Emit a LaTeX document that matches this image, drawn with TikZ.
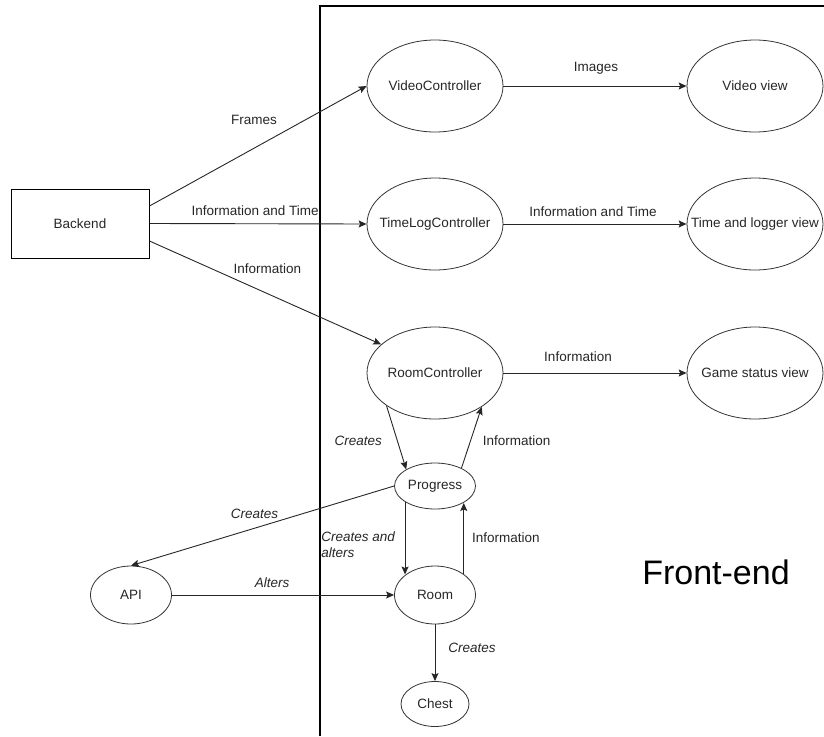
\documentclass[tikz,border=0pt]{standalone}
\usepackage{fontspec}
\setmainfont{Liberation Sans}
\usetikzlibrary{shapes.geometric,arrows.meta}

% Zero-width label so an ellipse keeps its given size
\newcommand{\zw}[1]{\makebox[0pt][c]{#1}}

\tikzset{
  every node/.style={font=\fontsize{13.5}{15}\selectfont, text=black!85},
  oval/.style={ellipse, draw=black!80, line width=0.8pt, inner sep=0pt},
  big/.style={oval, minimum width=136pt, minimum height=92pt},
  box/.style={rectangle, draw=black, line width=1pt, inner sep=0pt,
              minimum width=138pt, minimum height=69pt},
  arr/.style={draw=black!85, line width=0.9pt,
              -{Stealth[length=8pt,width=7pt,inset=1.5pt]}},
  lbl/.style={inner sep=1pt},
  ilbl/.style={inner sep=1pt, font=\fontsize{13.5}{16}\itshape},
}

\begin{document}
\begin{tikzpicture}[x=1pt,y=-1pt]
\useasboundingbox (0,0) rectangle (824,736);

% Front-end boundary (open to the right and bottom)
\draw[line width=1.3pt] (320,736) -- (320,6) -- (824,6);
\node[font=\fontsize{34}{36}\selectfont, text=black] (fe) at (716,572) {Front-end};

% Components
\node[box] (backend) at (80,223.5) {Backend};

\node[big] (video)   at (435,86)  {\zw{VideoController}};
\node[big] (videov)  at (755,86)  {\zw{Video view}};
\node[big] (timelog) at (435,224) {\zw{TimeLogController}};
\node[big] (timev)   at (755,224) {\zw{Time and logger view}};
\node[big] (roomc)   at (435,373) {\zw{RoomController}};
\node[big] (gamev)   at (755,373) {\zw{Game status view}};

\node[oval, minimum width=81pt, minimum height=46pt] (prog)  at (435,486) {\zw{Progress}};
\node[oval, minimum width=81pt, minimum height=58pt] (room)  at (435,595) {\zw{Room}};
\node[oval, minimum width=68pt, minimum height=45pt] (chest) at (435,704) {\zw{Chest}};
\node[oval, minimum width=81pt, minimum height=58pt] (api)   at (131,595) {\zw{API}};

% Backend feeds
\draw[arr] ([yshift=17.5pt]backend.east) -- (video.west)
  node[lbl, pos=.5, xshift=-4pt, yshift=26pt] {Frames};
\draw[arr] (backend.east) -- (timelog.west)
  node[lbl, pos=.5, xshift=-3pt, yshift=13pt] {Information and Time};
\draw[arr] ([yshift=-17.5pt]backend.east) -- (roomc.152)
  node[lbl, pos=.5, xshift=2pt, yshift=24pt] {Information};

% Controllers to views
\draw[arr] (video.east) -- (videov.west)
  node[lbl, pos=.5, xshift=1pt, yshift=18pt] {Images};
\draw[arr] (timelog.east) -- (timev.west)
  node[lbl, pos=.5, xshift=-2pt, yshift=12pt] {Information and Time};
\draw[arr] (roomc.east) -- (gamev.west)
  node[lbl, pos=.5, xshift=-17pt, yshift=16pt] {Information};

% Room logic
\draw[arr] (roomc.214) -- (prog.150)
  node[ilbl, pos=.5, xshift=-38pt, yshift=-3pt] {Creates};
\draw[arr] (prog.34) -- (roomc.324)
  node[lbl, pos=.5, xshift=45pt, yshift=-3pt] {Information};
\draw[arr] (prog.west) -- (api.north)
  node[ilbl, pos=.5, xshift=-8pt, yshift=12pt] {Creates};
\draw[arr] (prog.208.6) -- (prog.208.6 |- room.145.4)
  node[ilbl, pos=.5, align=left, xshift=-47pt, yshift=-6pt] {Creates and\\alters};
\draw[arr] (room.36.5) -- (room.36.5 |- prog.329.6)
  node[lbl, pos=.5, xshift=42pt, yshift=1pt] {Information};
\draw[arr] (api.east) -- (room.west)
  node[ilbl, pos=.5, xshift=-11pt, yshift=12pt] {Alters};
\draw[arr] (room.south) -- (chest.north)
  node[ilbl, pos=.5, xshift=37pt, yshift=5pt] {Creates};
\end{tikzpicture}
\end{document}
